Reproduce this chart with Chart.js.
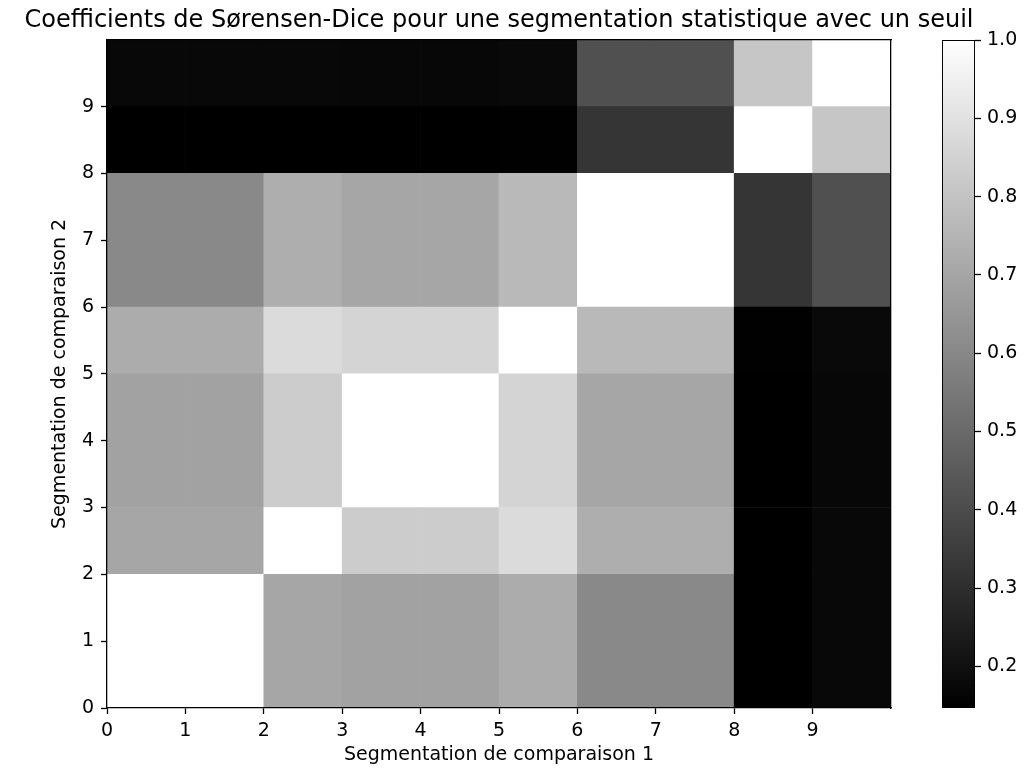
<!DOCTYPE html>
<html>
<head>
<meta charset="utf-8">
<script src="https://cdn.jsdelivr.net/npm/chart.js@4/dist/chart.umd.min.js"></script>
<style>
  html, body { margin: 0; padding: 0; background: #ffffff; }
  #wrap { position: relative; width: 1023px; height: 768px; overflow: hidden; background: #ffffff; }
  #main { position: absolute; left: 0; top: 0; }
  #cbar { position: absolute; left: 930px; top: 0; }
</style>
</head>
<body>
<div id="wrap">
  <canvas id="main" width="998" height="768"></canvas>
  <canvas id="cbar" width="93" height="768"></canvas>
</div>
<script>
// ---- data ----
const titleText = "Coefficients de Sørensen-Dice pour une segmentation statistique avec un seuil";
const xLabel = "Segmentation de comparaison 1";
const yLabel = "Segmentation de comparaison 2";
// cell edges (segment boundaries) on both axes
const xEdges = [0, 2, 3, 5, 6, 8, 9, 10];
const yEdges = [0, 2, 3, 5, 6, 8, 9, 10];
// Dice coefficients, one array per y band (bottom to top), one value per x band
const diceRow0 = [1.000, 0.702, 0.689, 0.722, 0.605, 0.147, 0.174];
const diceRow1 = [0.702, 1.000, 0.829, 0.880, 0.729, 0.148, 0.174];
const diceRow2 = [0.689, 0.829, 1.000, 0.856, 0.702, 0.147, 0.170];
const diceRow3 = [0.722, 0.880, 0.856, 1.000, 0.766, 0.149, 0.177];
const diceRow4 = [0.605, 0.729, 0.702, 0.766, 1.000, 0.324, 0.415];
const diceRow5 = [0.147, 0.148, 0.147, 0.149, 0.324, 1.000, 0.809];
const diceRow6 = [0.174, 0.174, 0.170, 0.177, 0.415, 0.809, 1.000];
const diceRows = [diceRow0, diceRow1, diceRow2, diceRow3, diceRow4, diceRow5, diceRow6];
// tick labels
const xTicks = [0, 1, 2, 3, 4, 5, 6, 7, 8, 9];
const yTicks = [0, 1, 2, 3, 4, 5, 6, 7, 8, 9];
const cbTicks = [0.2, 0.3, 0.4, 0.5, 0.6, 0.7, 0.8, 0.9, 1.0];

// ---- colour map (matplotlib "gray", vmin/vmax = data range) ----
const allVals = diceRows.flat();
const vmin = Math.min(...allVals);
const vmax = Math.max(...allVals);
function grayFor(v) {
  const g = Math.round(Math.max(0, Math.min(1, (v - vmin) / (vmax - vmin))) * 255);
  return 'rgb(' + g + ',' + g + ',' + g + ')';
}

// ---- build floating-bar datasets: one per y band, one bar per unit of x ----
const datasets = diceRows.map((row, j) => {
  const data = [];
  const colors = [];
  for (let i = 0; i < xEdges.length - 1; i++) {
    for (let u = xEdges[i]; u < xEdges[i + 1]; u++) {
      data.push({ x: u + 0.5, y: [yEdges[j], yEdges[j + 1]] });
      colors.push(grayFor(row[i]));
    }
  }
  return {
    data: data,
    backgroundColor: colors,
    borderWidth: 0,
    barPercentage: 1.0,
    categoryPercentage: 1.0,
    grouped: false,
    xAxisID: 'x',
    yAxisID: 'y'
  };
});

const FONT = 'DejaVu Sans';
const tickFont = { family: FONT, size: 19 };
const axisBlack = '#000000';
const TL = 6;
const LW = 1.3;

new Chart(document.getElementById('main').getContext('2d'), {
  type: 'bar',
  data: { datasets: datasets },
  options: {
    responsive: false,
    animation: false,
    events: [],
    layout: { padding: 0 },
    plugins: {
      legend: { display: false },
      tooltip: { enabled: false },
      title: {
        display: true,
        text: titleText,
        color: axisBlack,
        font: { family: FONT, size: 24, weight: 'normal' },
        padding: { top: 6, bottom: 5 }
      }
    },
    scales: {
      x: {
        type: 'linear', position: 'bottom', min: 0, max: 10,
        offset: false, stacked: true,
        afterBuildTicks: s => { s.ticks = xTicks.map(v => ({ value: v })); },
        afterFit: s => { s.height = 60; },
        grid: { display: true, z: 1, drawOnChartArea: false, drawTicks: true, tickLength: TL, tickColor: axisBlack, tickWidth: LW, offset: false },
        border: { display: true, z: 1, color: axisBlack, width: LW },
        ticks: { color: axisBlack, font: tickFont, padding: 6, maxRotation: 0, autoSkip: false },
        title: { display: true, text: xLabel, color: axisBlack, font: tickFont, padding: { top: 0, bottom: 2 } }
      },
      y: {
        type: 'linear', position: 'left', min: 0, max: 10, stacked: false,
        afterBuildTicks: s => { s.ticks = yTicks.map(v => ({ value: v })); },
        afterFit: s => { s.width = 107; },
        grid: { display: true, z: 1, drawOnChartArea: false, drawTicks: true, tickLength: TL, tickColor: axisBlack, tickWidth: LW },
        border: { display: true, z: 1, color: axisBlack, width: LW },
        ticks: { color: axisBlack, font: tickFont, padding: 7, autoSkip: false },
        title: { display: true, text: yLabel, color: axisBlack, font: tickFont, padding: { top: 49, bottom: 0 } }
      },
      xTop: {
        type: 'linear', axis: 'x', position: 'top', min: 0, max: 10,
        afterFit: s => { s.height = 0; },
        grid: { display: false },
        border: { display: true, z: 1, color: axisBlack, width: LW },
        ticks: { display: false }
      },
      yRight: {
        type: 'linear', axis: 'y', position: 'right', min: 0, max: 10,
        afterFit: s => { s.width = 107; },
        grid: { display: false },
        border: { display: true, z: 1, color: axisBlack, width: LW },
        ticks: { display: false }
      }
    }
  }
});

// ---- colour bar ----
new Chart(document.getElementById('cbar').getContext('2d'), {
  type: 'bar',
  data: {
    labels: [''],
    datasets: [{
      data: [[vmin, vmax]],
      backgroundColor: (c) => {
        const chart = c.chart;
        const area = chart.chartArea;
        if (!area) return '#808080';
        const ys = chart.scales.y;
        const g = chart.ctx.createLinearGradient(0, ys.getPixelForValue(vmin), 0, ys.getPixelForValue(vmax));
        g.addColorStop(0, grayFor(vmin));
        g.addColorStop(1, grayFor(vmax));
        return g;
      },
      borderColor: axisBlack,
      borderWidth: LW,
      borderSkipped: false,
      barPercentage: 1.0,
      categoryPercentage: 1.0
    }]
  },
  options: {
    responsive: false,
    animation: false,
    events: [],
    layout: { padding: { left: 12, right: 0, top: 40, bottom: 60 } },
    plugins: { legend: { display: false }, tooltip: { enabled: false } },
    scales: {
      x: { display: false },
      y: {
        position: 'right', min: vmin, max: vmax,
        afterBuildTicks: s => { s.ticks = cbTicks.map(v => ({ value: v })); },
        afterFit: s => { s.width = 48; },
        grid: { display: true, drawOnChartArea: false, drawTicks: true, tickLength: TL, tickColor: axisBlack, tickWidth: LW },
        border: { display: false },
        ticks: { color: axisBlack, font: tickFont, padding: 6, autoSkip: false, callback: v => Number(v).toFixed(1) }
      }
    }
  }
});
</script>
</body>
</html>
